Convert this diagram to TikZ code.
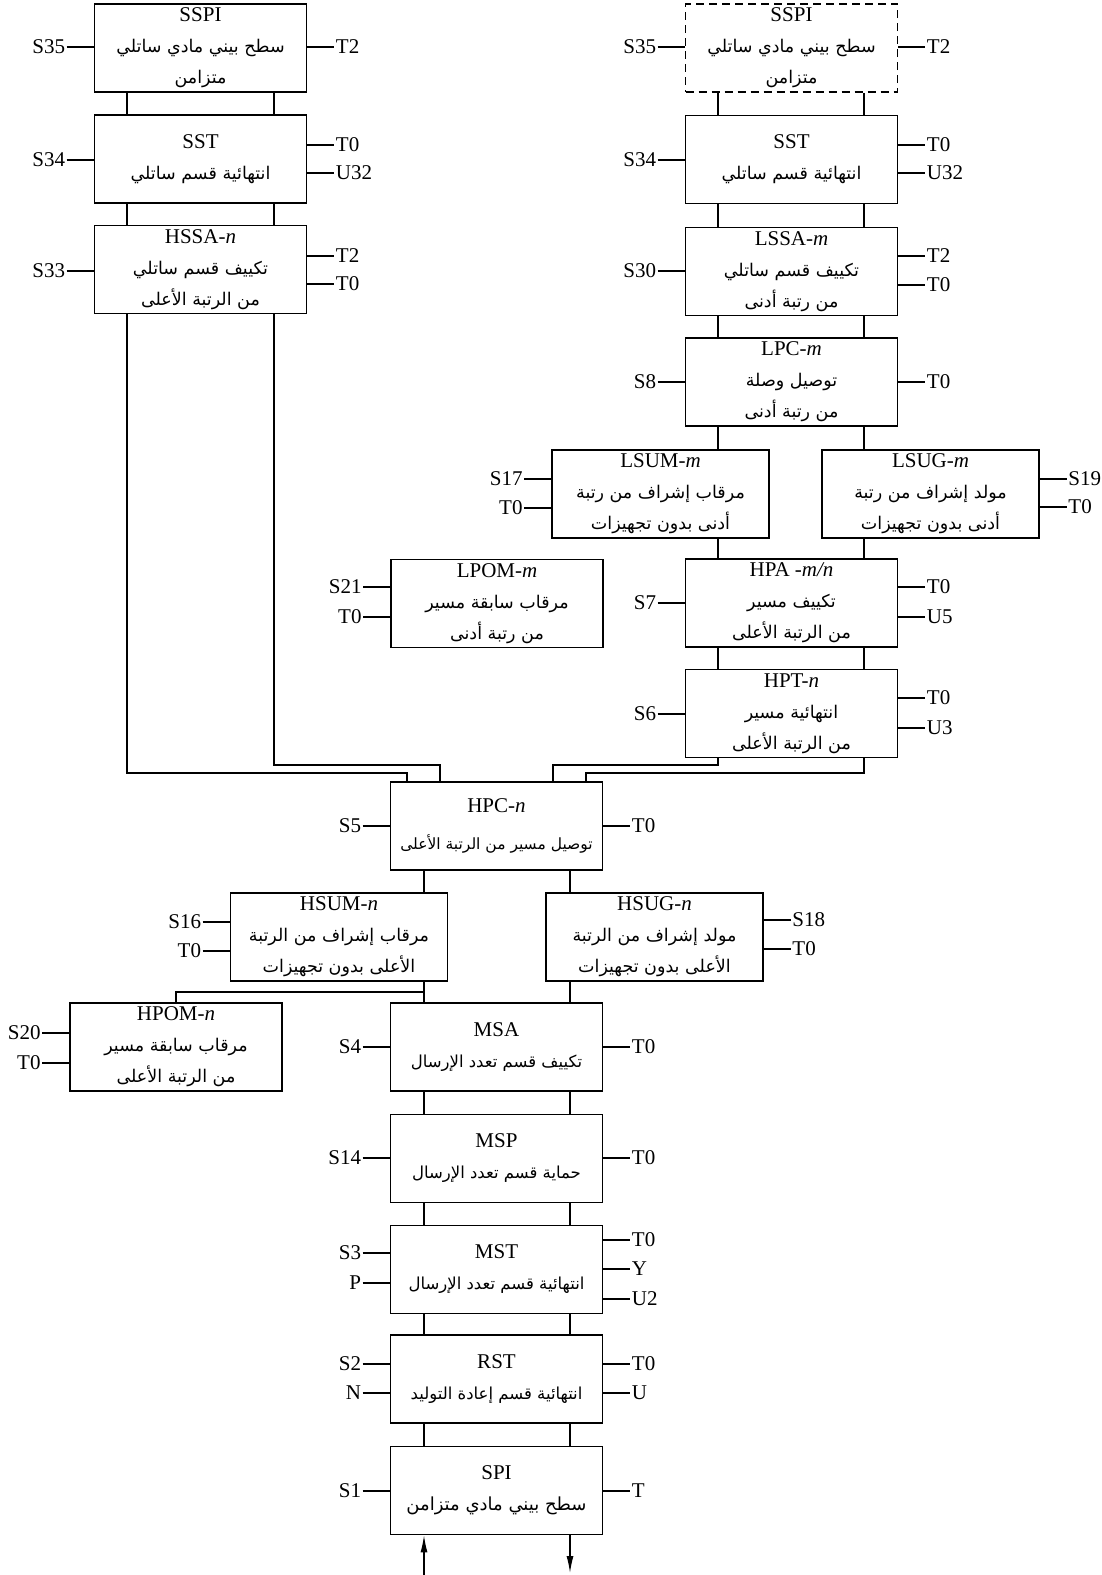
\documentclass[tikz,border=0pt]{standalone}
\usepackage{fontspec}
\setmainfont{Liberation Serif}
\newfontfamily\arabicfont[Script=Arabic]{DejaVu Sans}
\TeXXeTstate=1
\usetikzlibrary{arrows.meta}
\newcommand{\ar}[2][17.5]{{\arabicfont\fontsize{#1}{31}\selectfont\beginR #2\endR}}

\begin{document}
\begin{tikzpicture}[x=1pt, y=-1pt, line width=1.3pt,
    blk/.style={draw, line width=1.6pt, minimum width=212pt, minimum height=88pt,
      inner sep=0pt, align=center, font=\fontsize{21}{31}\selectfont},
    wblk/.style={blk, minimum width=217pt},
    lbl/.style={inner sep=1pt, font=\fontsize{21}{25}\selectfont}]

    \useasboundingbox (0,0) rectangle (1101,1575);

    \coordinate (la) at (127,0);
    \coordinate (lb) at (274,0);
    \coordinate (ra) at (718,0);
    \coordinate (rb) at (864,0);
    \coordinate (ma) at (424,0);
    \coordinate (mb) at (570,0);
    \coordinate (ja) at (407,773);
    \coordinate (jb) at (440,765);
    \coordinate (jc) at (553,765);
    \coordinate (jd) at (586,773);
    \coordinate (tap) at (424,992);
    \coordinate (inp) at (424,1575);
    \coordinate (outp) at (570,1573);

    \node[blk] (sspiL) at (200.5,48) {SSPI\\\ar{سطح بيني مادي ساتلي}\\\ar{متزامن}};
    \node[blk] (sstL) at (200.5,159) {SST\\\ar{انتهائية قسم ساتلي}};
    \node[blk] (hssa) at (200.5,269.5) {HSSA-\textit{n}\\\ar{تكييف قسم ساتلي}\\\ar{من الرتبة الأعلى}};

    \node[blk, dash pattern=on 8pt off 5pt] (sspiR) at (791.5,48) {SSPI\\\ar{سطح بيني مادي ساتلي}\\\ar{متزامن}};
    \node[blk] (sstR) at (791.5,159.5) {SST\\\ar{انتهائية قسم ساتلي}};
    \node[blk] (lssa) at (791.5,271.5) {LSSA-\textit{m}\\\ar{تكييف قسم ساتلي}\\\ar{من رتبة أدنى}};
    \node[blk] (lpc) at (791.5,382) {LPC-\textit{m}\\\ar{توصيل وصلة}\\\ar{من رتبة أدنى}};
    \node[wblk] (lsum) at (660.5,494) {LSUM-\textit{m}\\\ar{مرقاب إشراف من رتبة}\\\ar{أدنى بدون تجهيزات}};
    \node[wblk] (lsug) at (930.5,494) {LSUG-\textit{m}\\\ar{مولد إشراف من رتبة}\\\ar{أدنى بدون تجهيزات}};
    \node[blk] (lpom) at (497,603.5) {LPOM-\textit{m}\\\ar{مرقاب سابقة مسير}\\\ar{من رتبة أدنى}};
    \node[blk] (hpa) at (791.5,603) {HPA -\textit{m/n}\\\ar{تكييف مسير}\\\ar{من الرتبة الأعلى}};
    \node[blk] (hpt) at (791.5,713.5) {HPT-\textit{n}\\\ar{انتهائية مسير}\\\ar{من الرتبة الأعلى}};

    \node[blk] (hpc) at (496.5,826) {HPC-\textit{n}\\[6pt]\ar[15.5]{توصيل مسير من الرتبة الأعلى}};
    \node[wblk] (hsum) at (339,937) {HSUM-\textit{n}\\\ar{مرقاب إشراف من الرتبة}\\\ar{الأعلى بدون تجهيزات}};
    \node[wblk] (hsug) at (654.5,937) {HSUG-\textit{n}\\\ar{مولد إشراف من الرتبة}\\\ar{الأعلى بدون تجهيزات}};
    \node[blk] (hpom) at (176,1047) {HPOM-\textit{n}\\\ar{مرقاب سابقة مسير}\\\ar{من الرتبة الأعلى}};
    \node[blk] (msa) at (496.5,1047) {MSA\\\ar[16.5]{تكييف قسم تعدد الإرسال}};
    \node[blk] (msp) at (496.5,1158.5) {MSP\\\ar[16.5]{حماية قسم تعدد الإرسال}};
    \node[blk] (mst) at (496.5,1269.5) {MST\\\ar[16.5]{انتهائية قسم تعدد الإرسال}};
    \node[blk] (rst) at (496.5,1379) {RST\\\ar[16.5]{انتهائية قسم إعادة التوليد}};
    \node[blk] (spi) at (496.5,1490.5) {SPI\\\ar[18]{سطح بيني مادي متزامن}};

    \foreach \up/\dn in {sspiL/sstL, sstL/hssa}
    \draw (\up.south -| la) -- (\dn.north -| la) (\up.south -| lb) -- (\dn.north -| lb);
    \foreach \up/\dn in {sspiR/sstR, sstR/lssa, lssa/lpc, hpa/hpt}
    \draw (\up.south -| ra) -- (\dn.north -| ra) (\up.south -| rb) -- (\dn.north -| rb);
    \foreach \up/\dn in {msa/msp, msp/mst, mst/rst, rst/spi}
    \draw (\up.south -| ma) -- (\dn.north -| ma) (\up.south -| mb) -- (\dn.north -| mb);

    \draw (lpc.south -| ra) -- (lsum.north -| ra) (lsum.south -| ra) -- (hpa.north -| ra);
    \draw (lpc.south -| rb) -- (lsug.north -| rb) (lsug.south -| rb) -- (hpa.north -| rb);
    \draw (hpc.south -| ma) -- (hsum.north -| ma) (hsum.south -| ma) -- (msa.north -| ma);
    \draw (hpc.south -| mb) -- (hsug.north -| mb) (hsug.south -| mb) -- (msa.north -| mb);
    \draw (hpom.north) |- (tap);

    \draw (hssa.south -| la) |- (ja) -- (hpc.north -| ja);
    \draw (hssa.south -| lb) |- (jb) -- (hpc.north -| jb);
    \draw (hpt.south -| ra) |- (jc) -- (hpc.north -| jc);
    \draw (hpt.south -| rb) |- (jd) -- (hpc.north -| jd);

    \draw[-{Latex[length=17pt,width=7pt]}] (inp) -- (spi.south -| ma);
    \draw[-{Latex[length=17pt,width=7pt]}] (spi.south -| mb) -- (outp);

    \foreach \nd/\yy/\txt [count=\i] in {sspiL/47/S35, sstL/160/S34, hssa/271/S33,
        sspiR/47/S35, sstR/160/S34, lssa/271/S30, lpc/382/S8, lsum/479/S17, lsum/508/T0,
        lpom/587/S21, lpom/617/T0, hpa/603/S7, hpt/714/S6, hpc/826/S5, hsum/922/S16,
        hsum/951/T0, hpom/1033/S20, hpom/1063/T0, msa/1047/S4, msp/1158/S14,
        mst/1253/S3, mst/1283/P, rst/1364/S2, rst/1393/N, spi/1491/S1}
    {
      \node[lbl, anchor=east, xshift=-27] (w\i) at (\nd.west |- 0,\yy) {\txt};
      \draw (w\i.east) -- (\nd.west |- w\i.east);
    }

    \foreach \nd/\yy/\txt [count=\i] in {sspiL/47/T2, sstL/145/T0, sstL/173/U32,
        hssa/256/T2, hssa/284/T0, sspiR/47/T2, sstR/145/T0, sstR/173/U32, lssa/256/T2,
        lssa/285/T0, lpc/382/T0, lsug/479/S19, lsug/507/T0, hpa/587/T0, hpa/617/U5,
        hpt/698/T0, hpt/728/U3, hpc/826/T0, hsug/920/S18, hsug/949/T0, msa/1047/T0,
        msp/1158/T0, mst/1240/T0, mst/1269/Y, mst/1299/U2, rst/1364/T0, rst/1393/U,
        spi/1491/T}
    {
      \node[lbl, anchor=west, xshift=27] (e\i) at (\nd.east |- 0,\yy) {\txt};
      \draw (\nd.east |- e\i.west) -- (e\i.west);
    }

\end{tikzpicture}
\end{document}
